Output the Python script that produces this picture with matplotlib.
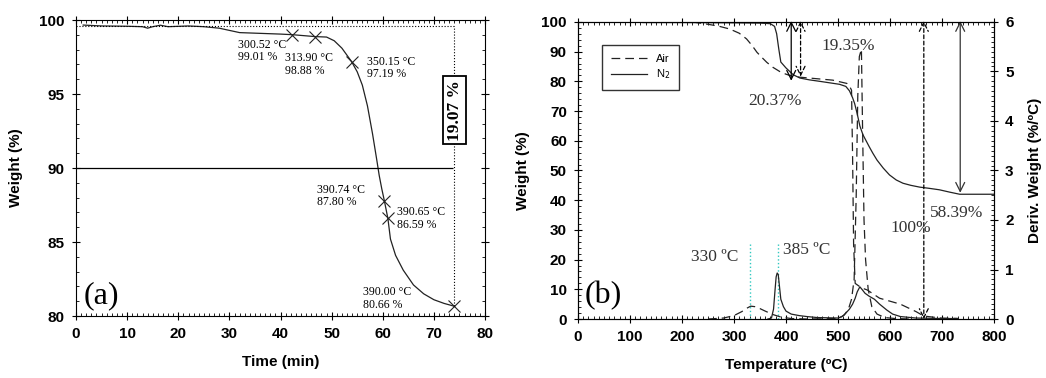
import matplotlib.pyplot as plt
from matplotlib.ticker import MultipleLocator

# (a) weight loss vs time
time_a = [1.4, 5, 10, 13, 14, 15, 16.5, 18, 22, 25, 28, 30, 32, 36, 40, 42.3, 46.8, 49, 50.5, 52,
          53.9, 55, 56, 57, 58, 58.8, 59.3, 59.8, 60.3, 61.0, 61.5, 62.5, 64, 66, 68, 70, 72, 74]
weight_a = [99.66, 99.6, 99.58, 99.55, 99.45, 99.55, 99.65, 99.55, 99.6, 99.55, 99.45, 99.3, 99.15,
            99.1, 99.05, 99.01, 98.88, 98.85, 98.6, 98.1, 97.19, 96.5, 95.6, 94.2, 92.3, 90.6, 89.5,
            88.6, 87.8, 86.59, 85.2, 84.1, 83.1, 82.1, 81.5, 81.1, 80.85, 80.66]
mark_t = [42.3, 46.8, 53.9, 60.3, 61.0, 74.0]
mark_w = [99.01, 98.88, 97.19, 87.80, 86.59, 80.66]
mark_labels = ['300.52 °C\n99.01 %', '313.90 °C\n98.88 %', '350.15 °C\n97.19 %',
               '390.74 °C\n87.80 %', '390.65 °C\n86.59 %', '390.00 °C\n80.66 %']
label_pos = [(31.7, 98.75), (40.9, 97.85), (56.9, 97.6), (47.1, 88.95), (62.8, 87.45), (56.2, 82.05)]

# (b) TGA / DTG in air and N2
n2_temp = [125, 200, 300, 350, 362, 370, 378, 382, 386, 390, 400, 414, 427, 445, 465, 503, 515, 522,
           528, 532, 537, 542, 548, 554, 560, 567, 575, 587, 599, 612, 625, 640, 657, 675, 695, 715,
           734, 760, 800]
n2_weight = [99.8, 99.8, 99.7, 99.6, 99.5, 99.4, 98.5, 96, 91, 86.5, 84.5, 82.2, 81.1, 80.5, 80.0,
             79.0, 78.3, 76.8, 74.5, 72.5, 69, 65, 62, 60, 58, 55.8, 53.5, 50.8, 48.5, 46.8, 45.7,
             45, 44.4, 44, 43.5, 42.7, 42, 42, 42]
air_temp = [220, 250, 270, 292, 310, 324, 335, 344, 355, 363, 375, 388, 400, 414, 452, 490, 517, 522,
            526, 528, 530, 533, 545, 556, 580, 620, 650, 665, 700, 730]
air_weight = [100, 99.2, 98.6, 97.6, 96.2, 94.3, 92, 89.8, 87.8, 86.4, 84.7, 83.3, 82.4, 81.6, 81.0,
              80.4, 79.3, 78.5, 77, 55, 25, 12, 10.5, 9.8, 7, 5, 2.5, 1.0, 0.3, 0.2]
n2_dtg_temp = [365, 372, 376, 379, 381, 383, 385, 387, 390, 395, 400, 410, 425, 440, 460, 500, 508,
               515, 522, 528, 533, 537, 542, 546, 552, 560, 570, 580, 594, 605, 620, 650, 700, 730]
n2_dtg = [0, 0.02, 0.2, 0.6, 0.85, 0.93, 0.9, 0.7, 0.4, 0.25, 0.16, 0.1, 0.07, 0.05, 0.03, 0.02, 0.05,
          0.12, 0.2, 0.3, 0.42, 0.55, 0.65, 0.6, 0.52, 0.46, 0.4, 0.3, 0.18, 0.1, 0.05, 0.02, 0.01, 0.01]
air_dtg_temp = [250, 280, 300, 315, 325, 332, 340, 350, 360, 375, 390, 410, 440, 500, 512, 520, 526,
                531, 535, 538, 541, 545, 547, 550, 553, 558, 565, 575, 590, 610, 640]
air_dtg = [0, 0.02, 0.07, 0.15, 0.22, 0.26, 0.25, 0.21, 0.16, 0.09, 0.04, 0.01, 0, 0.01, 0.08, 0.2,
           0.4, 0.8, 2.5, 4.5, 5.3, 5.45, 4.0, 2.0, 1.2, 0.6, 0.25, 0.1, 0.03, 0.01, 0]

plt.rcParams['font.family'] = 'Liberation Sans'
serif = 'Liberation Serif'

fig = plt.figure(figsize=(10.46, 3.78), dpi=100)
axa = fig.add_axes([0.0727, 0.164, 0.391, 0.783])
axb = fig.add_axes([0.5526, 0.156, 0.3977, 0.786])


def style_ticks(ax, left=True, right=True):
    ax.tick_params(which='major', direction='inout', length=6, width=0.8, labelsize=11, pad=5,
                   top=True, right=right, left=left)
    ax.tick_params(which='minor', direction='in', length=2.5, width=0.6, top=True,
                   right=right, left=left)
    for lab in ax.get_xticklabels() + ax.get_yticklabels():
        lab.set_fontweight('bold')


# ---- panel (a)
axa.plot(time_a, weight_a, color='#222222', lw=0.9)
axa.plot(mark_t, mark_w, 'x', color='#222222', ms=9, mew=0.8)
for (tx, ty), txt in zip(label_pos, mark_labels):
    axa.text(tx, ty, txt, family=serif, fontsize=8.5, va='top', ha='left', linespacing=1.1)
axa.hlines(90, 0, 73.7, color='black', lw=0.9)
axa.hlines(99.6, 0, 74, color='black', lw=0.8, ls=':')
axa.vlines(74, 80.66, 99.6, color='black', lw=0.8, ls=':')
axa.text(74.1, 93.9, '19.07 %', rotation=90, family=serif, fontsize=12.5, fontweight='bold',
         ha='center', va='center',
         bbox=dict(boxstyle='square,pad=0.2', fc='white', ec='black', lw=1.3))
axa.text(1.4, 81.4, '(a)', family=serif, fontsize=23, ha='left', va='center')
axa.set_xlim(0, 80)
axa.set_ylim(80, 100)
axa.xaxis.set_major_locator(MultipleLocator(10))
axa.xaxis.set_minor_locator(MultipleLocator(1))
axa.yaxis.set_major_locator(MultipleLocator(5))
axa.yaxis.set_minor_locator(MultipleLocator(1))
axa.set_xlabel('Time (min)', fontsize=11, fontweight='bold', labelpad=10)
axa.set_ylabel('Weight (%)', fontsize=11, fontweight='bold', labelpad=12)
style_ticks(axa)

# ---- panel (b)
axb.plot(air_temp, air_weight, color='#222222', lw=0.9, ls=(0, (7, 4)), label='Air')
axb.plot(n2_temp, n2_weight, color='#222222', lw=0.9, label='N$_2$')
ax2 = axb.twinx()
ax2.plot(air_dtg_temp, air_dtg, color='#222222', lw=0.9, ls=(0, (7, 4)))
ax2.plot(n2_dtg_temp, n2_dtg, color='#222222', lw=0.9)
ax2.set_ylim(0, 6)
ax2.yaxis.set_major_locator(MultipleLocator(1))
ax2.yaxis.set_minor_locator(MultipleLocator(0.1))
ax2.set_ylabel('Deriv. Weight (%/ºC)', fontsize=11, fontweight='bold', labelpad=10)
style_ticks(ax2, left=False, right=True)

axb.vlines([330, 385], 0, 26, color='#30c8c0', lw=1.0, ls=':')
axb.annotate('', xy=(410, 80.2), xytext=(410, 100.3),
             arrowprops=dict(arrowstyle='<->', color='black', lw=0.9, mutation_scale=16,
                             shrinkA=0, shrinkB=0))
axb.annotate('', xy=(428, 81.6), xytext=(428, 100.3),
             arrowprops=dict(arrowstyle='<->', color='black', lw=0.9, ls=(0, (3, 2)),
                             mutation_scale=16, shrinkA=0, shrinkB=0))
axb.annotate('', xy=(665, 0), xytext=(665, 100.3),
             arrowprops=dict(arrowstyle='<->', color='black', lw=0.9, ls=(0, (3, 2)),
                             mutation_scale=16, shrinkA=0, shrinkB=0))
axb.annotate('', xy=(735, 42.5), xytext=(735, 100.3),
             arrowprops=dict(arrowstyle='<->', color='#333333', lw=0.9, mutation_scale=16,
                             shrinkA=0, shrinkB=0))
axb.text(379, 73.5, '20.37%', family=serif, fontsize=12.5, ha='center', va='center', color='#333333')
axb.text(519, 92, '19.35%', family=serif, fontsize=12.5, ha='center', va='center', color='#333333')
axb.text(640, 30.5, '100%', family=serif, fontsize=12.5, ha='center', va='center', color='#333333')
axb.text(729, 35.7, '58.39%', family=serif, fontsize=12.5, ha='center', va='center', color='#333333')
axb.text(263, 21, '330 ºC', family=serif, fontsize=12.5, ha='center', va='center', color='#333333')
axb.text(440, 23.2, '385 ºC', family=serif, fontsize=12.5, ha='center', va='center', color='#333333')
axb.text(13, 8, '(b)', family=serif, fontsize=23, ha='left', va='center')

axb.set_xlim(0, 800)
axb.set_ylim(0, 100)
axb.xaxis.set_major_locator(MultipleLocator(100))
axb.xaxis.set_minor_locator(MultipleLocator(10))
axb.yaxis.set_major_locator(MultipleLocator(10))
axb.yaxis.set_minor_locator(MultipleLocator(2))
axb.set_xlabel('Temperature (ºC)', fontsize=11, fontweight='bold', labelpad=10)
axb.set_ylabel('Weight (%)', fontsize=11, fontweight='bold', labelpad=8)
style_ticks(axb, left=True, right=False)
leg = axb.legend(loc='upper left', bbox_to_anchor=(0.045, 0.94), fontsize=8, frameon=True,
                 fancybox=False, edgecolor='black', handlelength=3.2, borderpad=0.8,
                 labelspacing=0.3)
leg.get_frame().set_linewidth(1.0)

fig.savefig('out.png', dpi=100)
